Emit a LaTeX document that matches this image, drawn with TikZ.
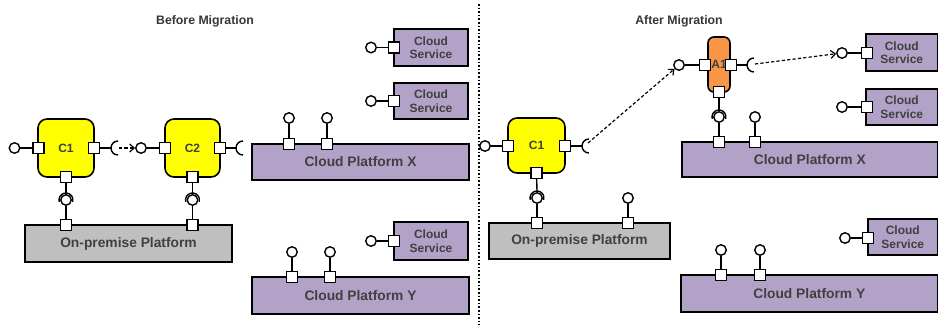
\documentclass[tikz,border=0pt]{standalone}
\usepackage{fontspec}
\setmainfont{Liberation Sans}
\usetikzlibrary{arrows.meta}
\definecolor{compyellow}{HTML}{FFFF00}
\definecolor{apporange}{HTML}{F79646}
\definecolor{cloudpurple}{HTML}{B3A2C7}
\definecolor{premgray}{HTML}{BFBFBF}
\definecolor{txtgray}{HTML}{404040}
\begin{document}
\begin{tikzpicture}[x=1pt,y=-1pt,
  comp/.style={draw=black, line width=1.6pt, rounded corners=9pt, fill=compyellow,
    inner sep=0pt, text=txtgray, font=\fontsize{12}{14}\selectfont\bfseries},
  app/.style={comp, fill=apporange, rounded corners=6pt},
  platform/.style={draw=black, line width=1.6pt, inner sep=0pt, text=txtgray,
    font=\fontsize{13.8}{16}\selectfont\bfseries},
  cloud/.style={platform, fill=cloudpurple},
  prem/.style={platform, fill=premgray},
  service/.style={cloud, align=center, font=\fontsize{12}{13.5}\selectfont\bfseries},
  port/.style={draw=black, fill=white, line width=1.4pt, minimum size=11pt, inner sep=0pt},
  ball/.style={circle, draw=black, fill=white, line width=1.4pt, minimum size=10.5pt, inner sep=0pt},
  wire/.style={line width=1.4pt},
  dep/.style={line width=1.2pt, dash pattern=on 3.2pt off 2.2pt, -{Straight Barb[length=4.5pt,width=8pt]}},
  heading/.style={text=txtgray!85!black, font=\fontsize{12.3}{14}\selectfont\bfseries}
]
\useasboundingbox (0,0) rectangle (939,325);

% ---------- headings and separator ----------
\node[heading] (hb) at (205,21) {Before Migration};
\node[heading] (ha) at (679,21) {After Migration};
\coordinate (sepT) at (479,4);
\coordinate (sepB) at (479,325);
\draw[dotted, line width=1.6pt] (sepT) -- (sepB);

% ================= before migration =================
% platforms
\node[prem, minimum width=207pt, minimum height=37pt] (lop) at (128.5,243.5) {On-premise Platform};
\node[cloud, minimum width=217pt, minimum height=36pt] (lpx) at (360.5,162) {Cloud Platform X};
\node[cloud, minimum width=217pt, minimum height=37pt] (lpy) at (360.5,295.5) {Cloud Platform Y};
% cloud services
\node[service, minimum width=74pt, minimum height=37pt] (ls1) at (431,47.5) {Cloud\\Service};
\node[service, minimum width=74pt, minimum height=36pt] (ls2) at (431,101) {Cloud\\Service};
\node[service, minimum width=74pt, minimum height=38pt] (ls3) at (431,241) {Cloud\\Service};
% components
\node[comp, minimum width=56pt, minimum height=58pt] (lc1) at (66,148) {C1};
\node[comp, minimum width=55pt, minimum height=58pt] (lc2) at (192.5,148) {C2};

% component ports
\node[port] (lc1w) at (38.5,148) {};
\node[port] (lc1e) at (94,148) {};
\node[port] (lc1s) at (66,177) {};
\node[ball] (lc1wb) at (14.5,148) {};
\node[ball] (lc1sb) at (66,200) {};
\coordinate (lc1ek) at (111,148);
\coordinate (lc1eo) at (119,148);
\coordinate (lc1sk) at (66,193);

\node[port] (lc2w) at (165,148) {};
\node[port] (lc2e) at (220,148) {};
\node[port] (lc2s) at (192.5,177) {};
\node[ball] (lc2wb) at (141,148) {};
\node[ball] (lc2sb) at (192.5,200) {};
\coordinate (lc2ek) at (236,148);
\coordinate (lc2sk) at (192.5,193);

% platform ports
\node[port] (lopa) at (66,225) {};
\node[port] (lopb) at (192.5,225) {};
\node[port] (lpxa) at (289,144) {};
\node[port] (lpxb) at (327,144) {};
\node[ball] (lpxab) at (289,118) {};
\node[ball] (lpxbb) at (327,118) {};
\node[port] (lpya) at (292,277) {};
\node[port] (lpyb) at (330,277) {};
\node[ball] (lpyab) at (292,252) {};
\node[ball] (lpybb) at (330,252) {};

% service ports
\node[port] (ls1p) at (394,47.5) {};
\node[ball] (ls1b) at (371,47.5) {};
\node[port] (ls2p) at (394,101) {};
\node[ball] (ls2b) at (371,101) {};
\node[port] (ls3p) at (394,241) {};
\node[ball] (ls3b) at (371,241) {};

% wiring
\draw[wire] (lc1w) -- (lc1wb);
\draw[wire] (lc1e) -- (lc1ek);
\draw[wire] ([shift={(7,7)}]lc1ek) arc[start angle=90,end angle=270,radius=7];
\draw[wire] (lc1s) -- (lc1sk);
\draw[wire] ([shift={(165:7)}]lc1sb.center) arc[start angle=165,end angle=375,radius=7];
\draw[wire] (lc1sb) -- (lopa);
\draw[dep] (lc1eo) -- (lc2wb);

\draw[wire] (lc2w) -- (lc2wb);
\draw[wire] (lc2e) -- (lc2ek);
\draw[wire] ([shift={(7,7)}]lc2ek) arc[start angle=90,end angle=270,radius=7];
\draw[wire] (lc2s) -- (lc2sk);
\draw[wire] ([shift={(165:7)}]lc2sb.center) arc[start angle=165,end angle=375,radius=7];
\draw[wire] (lc2sb) -- (lopb);

\draw[wire] (lpxa) -- (lpxab);
\draw[wire] (lpxb) -- (lpxbb);
\draw[wire] (lpya) -- (lpyab);
\draw[wire] (lpyb) -- (lpybb);
\draw[wire] (ls1p) -- (ls1b);
\draw[wire] (ls2p) -- (ls2b);
\draw[wire] (ls3p) -- (ls3b);

% ================= after migration =================
% platforms
\node[prem, minimum width=181pt, minimum height=36pt] (rop) at (579.5,241) {On-premise Platform};
\node[cloud, minimum width=255.5pt, minimum height=35pt] (rpx) at (809.75,159.5) {Cloud Platform X};
\node[cloud, minimum width=256.5pt, minimum height=37pt] (rpy) at (809.25,293.5) {Cloud Platform Y};
% cloud services
\node[service, minimum width=71.5pt, minimum height=37pt] (rs1) at (901.75,52.5) {Cloud\\Service};
\node[service, minimum width=71.5pt, minimum height=36pt] (rs2) at (901.75,107) {Cloud\\Service};
\node[service, minimum width=69.5pt, minimum height=36pt] (rs3) at (902.75,237) {Cloud\\Service};
% components
\node[comp, minimum width=57pt, minimum height=55pt] (rc1) at (536.5,145.5) {C1};
\node[app, minimum width=22pt, minimum height=55pt] (ra1) at (719,64.5) {A1};

% component ports
\node[port] (rc1w) at (508,146) {};
\node[port] (rc1e) at (565,146) {};
\node[port] (rc1s) at (536.5,173) {};
\node[ball] (rc1wb) at (485,146) {};
\node[ball] (rc1sb) at (537,198) {};
\coordinate (rc1ek) at (582,146);
\coordinate (rc1eo) at (588,143);
\coordinate (rc1sk) at (537,191);

\node[port] (ra1w) at (705,65) {};
\node[port] (ra1e) at (731,65) {};
\node[port] (ra1s) at (719,92) {};
\node[ball] (ra1wb) at (679,65) {};
\node[ball] (ra1sb) at (719,117) {};
\coordinate (ra1ek) at (747,65);
\coordinate (ra1eo) at (755,64);
\coordinate (ra1sk) at (719,110);

% platform ports
\node[port] (ropa) at (537,223) {};
\node[port] (ropb) at (628,223) {};
\node[ball] (ropbb) at (628,198) {};
\node[port] (rpxa) at (719,142) {};
\node[port] (rpxb) at (755,142) {};
\node[ball] (rpxbb) at (755,117) {};
\node[port] (rpya) at (721,275) {};
\node[port] (rpyb) at (760,275) {};
\node[ball] (rpyab) at (721,250) {};
\node[ball] (rpybb) at (760,250) {};

% service ports
\node[port] (rs1p) at (867,53) {};
\node[ball] (rs1b) at (842,53) {};
\node[port] (rs2p) at (867,107) {};
\node[ball] (rs2b) at (842,107) {};
\node[port] (rs3p) at (868,238) {};
\node[ball] (rs3b) at (845,238) {};

% wiring
\draw[wire] (rc1w) -- (rc1wb);
\draw[wire] (rc1e) -- (rc1ek);
\draw[wire] ([shift={(7,7)}]rc1ek) arc[start angle=90,end angle=270,radius=7];
\draw[wire] (rc1s) -- (rc1sk);
\draw[wire] ([shift={(165:7)}]rc1sb.center) arc[start angle=165,end angle=375,radius=7];
\draw[wire] (rc1sb) -- (ropa);
\draw[wire] (ropb) -- (ropbb);
\draw[dep] (rc1eo) -- (ra1wb);

\draw[wire] (ra1w) -- (ra1wb);
\draw[wire] (ra1e) -- (ra1ek);
\draw[wire] ([shift={(7,7)}]ra1ek) arc[start angle=90,end angle=270,radius=7];
\draw[wire] (ra1s) -- (ra1sk);
\draw[wire] ([shift={(165:7)}]ra1sb.center) arc[start angle=165,end angle=375,radius=7];
\draw[wire] (ra1sb) -- (rpxa);
\draw[dep] (ra1eo) -- (rs1b);

\draw[wire] (rpxb) -- (rpxbb);
\draw[wire] (rpya) -- (rpyab);
\draw[wire] (rpyb) -- (rpybb);
\draw[wire] (rs1p) -- (rs1b);
\draw[wire] (rs2p) -- (rs2b);
\draw[wire] (rs3p) -- (rs3b);
\end{tikzpicture}
\end{document}
